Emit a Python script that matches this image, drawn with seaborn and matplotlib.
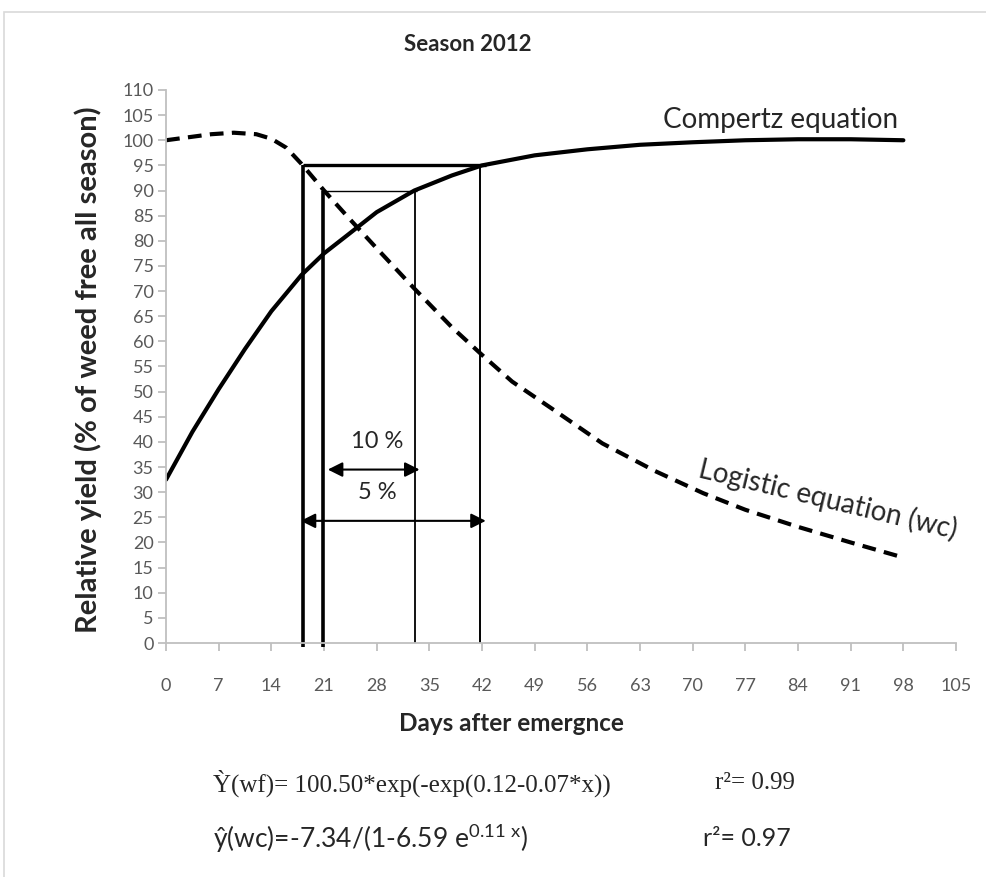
"""Relative yield vs days after emergence, season 2012 (Gompertz / logistic fits)."""

import matplotlib

matplotlib.use("Agg")
import matplotlib.pyplot as plt
import pandas as pd
import seaborn as sns
from matplotlib.patches import Rectangle

# Gompertz curve (weed free)
gompertz_days = [0, 3.5, 7, 10.5, 14, 18, 21, 24, 28, 33, 38, 42, 49, 56, 63, 70, 77, 84, 91, 98]
gompertz_yield = [32.5, 42, 50.5, 58.5, 66, 73.2, 77.5, 81, 85.7, 90, 93, 95, 97, 98.2, 99.1,
                  99.6, 100, 100.2, 100.2, 100]

# Logistic curve (weed competition)
logistic_days = [0, 3, 6, 9, 12, 14, 16, 18, 21, 24, 28, 33, 38, 42, 46, 51.5, 58, 65, 71.4,
                 77, 84, 91, 98]
logistic_yield = [100, 100.6, 101.2, 101.5, 101.2, 100.3, 98.5, 95.3, 90, 85, 78.5, 70.5,
                  62.8, 57.3, 52, 46.4, 39.7, 34.2, 29.8, 26.5, 23.1, 20, 17]

# critical period markers: [5 % loss, 10 % loss]
loss_labels = ["5 %", "10 %"]
loss_levels = [95, 90]
period_start = [18.2, 20.9]
period_end = [41.7, 33.1]
arrow_y = [24.3, 34.5]

x_ticks = list(range(0, 106, 7))
y_ticks = list(range(0, 111, 5))

sns.set_style("white")
sans = ["Lato", "DejaVu Sans"]
plt.rcParams["font.family"] = sans
plt.rcParams["mathtext.fontset"] = "custom"
plt.rcParams["mathtext.rm"] = "Lato"

fig = plt.figure(figsize=(9.86, 8.77), dpi=100)
ax = fig.add_axes([0.1684, 0.2668, 0.8012, 0.6306])

gdf = pd.DataFrame({"day": gompertz_days, "yield": gompertz_yield})
ldf = pd.DataFrame({"day": logistic_days, "yield": logistic_yield})
sns.lineplot(data=gdf, x="day", y="yield", ax=ax, color="black", lw=3.0)
sns.lineplot(data=ldf, x="day", y="yield", ax=ax, color="black", lw=3.0,
             linestyle=(0, (3.3, 2.0)))

# vertical drop lines and horizontal loss levels
start_lw = [2.6, 2.6]
end_lw = [1.4, 1.3]
h_lw = [2.4, 1.0]
for i in range(2):
    ax.vlines(period_start[i], -0.8, loss_levels[i], color="black", lw=start_lw[i], clip_on=False)
    ax.vlines(period_end[i], 0, loss_levels[i], color="black", lw=end_lw[i])
    ax.hlines(loss_levels[i], period_start[i], period_end[i] + (0.8 if i == 0 else 0.3),
              color="black", lw=h_lw[i])
    x0 = period_start[i] - (0.3 if i == 0 else -0.6)
    x1 = period_end[i] + (0.8 if i == 0 else 0.6)
    ax.annotate("", xy=(x1, arrow_y[i]), xytext=(x0, arrow_y[i]),
                arrowprops=dict(arrowstyle="<|-|>", mutation_scale=22, lw=1.5,
                                color="black", shrinkA=0, shrinkB=0))
    ax.text(28.1, arrow_y[i] + 5.6, loss_labels[i], ha="center", va="center", fontsize=17)

ax.text(81.7, 104.0, "Compertz equation", ha="center", va="center", fontsize=20)
ax.text(88.0, 28.6, "Logistic equation (wc)", ha="center", va="center", fontsize=20,
        rotation=-13.5, rotation_mode="anchor")

ax.set_xlim(0, 105)
ax.set_ylim(0, 110)
ax.set_xticks(x_ticks)
ax.set_yticks(y_ticks)
ax.set_xlabel("")
ax.set_ylabel("")
for side in ["top", "right"]:
    ax.spines[side].set_visible(False)
for side in ["left", "bottom"]:
    ax.spines[side].set_color("#bfbfbf")
    ax.spines[side].set_linewidth(1.3)
ax.tick_params(axis="both", which="major", length=6, width=1.3, color="#bfbfbf",
               labelcolor="#595959", labelsize=13, direction="out")
ax.tick_params(axis="x", pad=19)
ax.tick_params(axis="y", pad=3)
ax.tick_params(bottom=True, left=True)

fig.text(0.4746, 0.9487, "Season 2012", ha="center", va="center", fontsize=16,
         fontweight="bold")
fig.text(0.519, 0.1745, "Days after emergnce", ha="center", va="center", fontsize=17.5,
         fontweight="bold")
fig.text(0.089, 0.578, "Relative yield (% of weed free all season)", ha="center",
         va="center", rotation=90, fontsize=21, fontweight="bold")

serif = ["Liberation Serif", "DejaVu Serif"]
fig.text(0.216, 0.107, "Ỳ(wf)= 100.50*exp(-exp(0.12-0.07*x))", ha="left", va="center",
         fontsize=18, family=serif)
fig.text(0.725, 0.107, "r²= 0.99", ha="left", va="center", fontsize=18, family=serif)
fig.text(0.216, 0.044, r"ŷ(wc)=-7.34/(1-6.59 e$^{\mathregular{0.11\ x}}$)", ha="left",
         va="center", fontsize=19)
fig.text(0.713, 0.044, "r²= 0.97", ha="left", va="center", fontsize=18)

# light chart-area border
fig.patches.append(Rectangle((4 / 986, -0.05), 1.1, 1 - 12 / 877 + 0.05,
                             transform=fig.transFigure, fill=False,
                             edgecolor="#d9d9d9", lw=1.2))

fig.savefig("out.png", dpi=100)
plt.close(fig)
